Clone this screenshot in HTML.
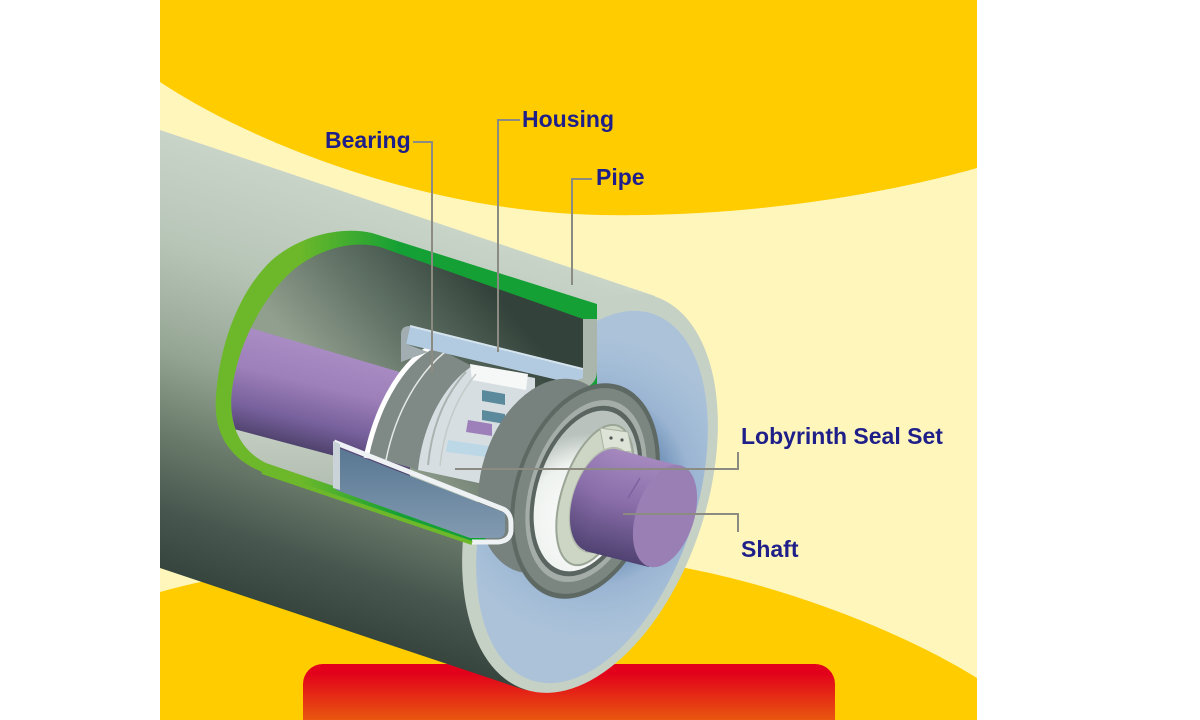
<!DOCTYPE html>
<html><head><meta charset="utf-8"><title>Roller cross-section</title>
<style>
html,body{margin:0;padding:0;background:#fff;width:1200px;height:720px;overflow:hidden}
svg{display:block}
.lbl{font-family:"Liberation Sans",Arial,sans-serif;font-weight:bold;font-size:23px;fill:#1f1f8a}
.ld{fill:none;stroke:#8b8b82;stroke-width:2}
</style></head><body>
<svg width="1200" height="720" viewBox="0 0 1200 720" xmlns="http://www.w3.org/2000/svg">
<defs>
<linearGradient id="gRed" gradientUnits="userSpaceOnUse" x1="0" y1="664" x2="0" y2="720">
<stop offset="0.15" stop-color="#e2001b"/><stop offset="1" stop-color="#e8570f"/></linearGradient>
<linearGradient id="gBody" gradientUnits="userSpaceOnUse" x1="300" y1="177" x2="168" y2="570">
<stop offset="0" stop-color="#c9d4c9"/><stop offset="0.25" stop-color="#b7c5b7"/><stop offset="0.5" stop-color="#95a594"/><stop offset="0.7" stop-color="#687868"/><stop offset="0.86" stop-color="#485850"/><stop offset="1" stop-color="#36453d"/></linearGradient>
<linearGradient id="gGreen" gradientUnits="userSpaceOnUse" x1="300" y1="0" x2="400" y2="0">
<stop offset="0" stop-color="#6cb82a"/><stop offset="1" stop-color="#14a034"/></linearGradient>
<linearGradient id="gIn" gradientUnits="userSpaceOnUse" x1="470" y1="265" x2="330" y2="385">
<stop offset="0" stop-color="#33433b"/><stop offset="0.5" stop-color="#5f7064"/><stop offset="1" stop-color="#919f8e"/></linearGradient>
<linearGradient id="gLow" gradientUnits="userSpaceOnUse" x1="0" y1="420" x2="0" y2="520">
<stop offset="0" stop-color="#c6d0c4"/><stop offset="1" stop-color="#a9b6a8"/></linearGradient>
<linearGradient id="gShaft" gradientUnits="userSpaceOnUse" x1="310" y1="345" x2="285" y2="450">
<stop offset="0" stop-color="#a98cc4"/><stop offset="0.35" stop-color="#9d7fb9"/><stop offset="0.7" stop-color="#76609b"/><stop offset="1" stop-color="#463b62"/></linearGradient>
<linearGradient id="gShaft2" gradientUnits="userSpaceOnUse" x1="640" y1="458" x2="615" y2="560">
<stop offset="0" stop-color="#a387bd"/><stop offset="0.45" stop-color="#8a6eaa"/><stop offset="1" stop-color="#4e4170"/></linearGradient>
<radialGradient id="gFace" gradientUnits="userSpaceOnUse" cx="588" cy="488" r="150">
<stop offset="0.5" stop-color="#7596bb"/><stop offset="0.66" stop-color="#9ab4d2"/><stop offset="0.85" stop-color="#a5bed7"/><stop offset="1" stop-color="#abc2d9"/></radialGradient>
<linearGradient id="gChan" gradientUnits="userSpaceOnUse" x1="0" y1="450" x2="0" y2="540">
<stop offset="0" stop-color="#5a7893"/><stop offset="1" stop-color="#829bb1"/></linearGradient>
<radialGradient id="gSeal" gradientUnits="userSpaceOnUse" cx="600" cy="520" r="90">
<stop offset="0" stop-color="#ffffff"/><stop offset="0.7" stop-color="#eef2ef"/><stop offset="1" stop-color="#b9c2bd"/></radialGradient>
<clipPath id="cWin"><path d="M583,319 L380,247 C352,240 318,249 292,271 C262,298 238,345 232,390 C228,425 240,450 266,463 L472,533 L520,533 L583,386 Z"/></clipPath>
</defs>

<!-- background -->
<rect x="0" y="0" width="1200" height="720" fill="#ffffff"/>
<rect x="160" y="0" width="817" height="720" fill="#fff6bc"/>
<path d="M160,0 H977 V168 C900,190 760,218 600,215 C430,212 255,145 160,82 Z" fill="#ffcc00"/>
<path d="M160,592 C320,548 560,545 680,567 C780,585 900,630 977,678 V720 H160 Z" fill="#ffcc00"/>
<rect x="303" y="664" width="532" height="90" rx="20" fill="url(#gRed)"/>

<!-- pipe body -->
<path d="M160,130 L655,296 L525,690 L160,568 Z" fill="url(#gBody)"/>
<ellipse cx="590" cy="493" rx="116" ry="207" transform="rotate(18.3 590 493)" fill="#c6d1c5"/>
<ellipse cx="592" cy="497" rx="104" ry="193" transform="rotate(18.3 592 497)" fill="url(#gFace)"/>

<!-- cutaway -->
<path d="M597,304 L372,233 C340,226 300,236 272,260 C238,292 220,345 216,395 C213,432 228,458 262,472 L472,543 L520,543 L597,386 Z" fill="url(#gGreen)"/>
<path d="M583,319 L380,247 C352,240 318,249 292,271 C262,298 238,345 232,390 C228,425 240,450 266,463 L472,533 L520,533 L583,386 Z" fill="url(#gIn)"/>
<g clip-path="url(#cWin)">
  <path d="M215,410 L345,448 L500,505 L500,550 L215,480 Z" fill="url(#gLow)"/>
  <path d="M230,322 L410,375 L410,476 L215,424 Z" fill="url(#gShaft)"/>
  <!-- bearing ring -->
  <path d="M433,346 C405,360 378,400 368,455 L418,470 C422,430 440,388 472,366 Z" fill="#7f8985"/>
  <path d="M433,346 C405,360 378,400 366,458" fill="none" stroke="#ffffff" stroke-width="5"/>
  <path d="M445,352 C420,372 396,410 386,460" fill="none" stroke="#e4e9e6" stroke-width="1.5"/>
  <!-- cage -->
  <path d="M472,366 L535,378 L535,495 L418,470 C422,430 440,388 472,366 Z" fill="#d7dee2"/>
  <path d="M470,364 L528,374 L526,390 L472,380 Z" fill="#f6f8f8"/>
  <path d="M482,390 L505,394 L505,405 L482,401 Z" fill="#5b8a9c"/>
  <path d="M482,410 L505,414 L505,424 L482,420 Z" fill="#5b8a9c"/>
  <path d="M468,420 L492,424 L492,436 L466,432 Z" fill="#9d80ba"/>
  <path d="M448,440 L495,447 L495,458 L446,452 Z" fill="#bcd8e6"/>
  <path d="M466,372 C445,395 432,425 428,465" fill="none" stroke="#aab3b0" stroke-width="2"/>
  <path d="M476,374 C456,398 444,428 440,466" fill="none" stroke="#c3cac7" stroke-width="1.5"/>
  <!-- housing top plate -->
  <path d="M410,326 L583,369 L583,386 L406,344 Z" fill="#b3cbe0"/>
  <path d="M410,326 L583,369" fill="none" stroke="#d5e3ee" stroke-width="2"/>
  <path d="M401,334 Q401,326 410,326 L406,344 L428,352 L401,362 Z" fill="#a2adb1"/>
</g>

<!-- pipe wall section at end -->
<path d="M583,319 L597,319 L597,370 Q597,388 578,388 L560,386 L583,378 Z" fill="#aab5ab"/>

<!-- housing disc & flange -->
<ellipse cx="548" cy="476" rx="66" ry="100" transform="rotate(18 548 476)" fill="#77817d"/>
<ellipse cx="585" cy="491" rx="70" ry="111" transform="rotate(18 585 491)" fill="#5e6964"/>
<ellipse cx="585" cy="491" rx="66" ry="106" transform="rotate(18 585 491)" fill="#7b8681"/>
<ellipse cx="586" cy="491" rx="56" ry="94" transform="rotate(18 586 491)" fill="#a4ada8"/>
<ellipse cx="586" cy="491" rx="52" ry="88" transform="rotate(18 586 491)" fill="#5a6460"/>
<ellipse cx="586" cy="491" rx="48" ry="83" transform="rotate(18 586 491)" fill="url(#gSeal)"/>
<ellipse cx="595" cy="495" rx="33" ry="73" transform="rotate(18 595 495)" fill="#cdd6c4" stroke="#9aa596" stroke-width="2"/>
<path d="M600,428 L628,432 L632,452 L604,450 Z" fill="#dde3d6" stroke="#a9b2a4" stroke-width="1"/>
<circle cx="611" cy="438" r="1.6" fill="#555"/>
<circle cx="622" cy="440" r="1.6" fill="#555"/>

<!-- shaft end -->
<ellipse cx="602" cy="500" rx="30" ry="55" transform="rotate(18 602 500)" fill="#b4bcae"/>
<ellipse cx="602" cy="500" rx="29" ry="53" transform="rotate(18 602 500)" fill="url(#gShaft2)"/>
<path d="M619,450 L681,466 L649,567 L585,551 Z" fill="url(#gShaft2)"/>
<ellipse cx="665" cy="516" rx="29" ry="53" transform="rotate(18 665 516)" fill="#9a7fb5"/>
<path d="M640,478 L628,498" fill="none" stroke="#7b62a0" stroke-width="1.5"/>

<!-- housing channel (bottom) -->
<path d="M336,447 L505,513 L505,530 Q505,538 497,538 L470,538 L336,490 Z" fill="url(#gChan)"/>
<path d="M334,442 L503,509 Q511,513 511,523 L511,531 Q510,541 498,542 L472,542" fill="none" stroke="#eef2f4" stroke-width="5"/>
<path d="M333,441 L340,444 L340,490 L333,488 Z" fill="#c9d3d8"/>
<path d="M262,472 L472,543" fill="none" stroke="#6cb82a" stroke-width="4"/>

<!-- leader lines -->
<path class="ld" d="M413,142 H432 V373"/>
<path class="ld" d="M520,120 H498 V352"/>
<path class="ld" d="M592,179 H572 V285"/>
<path class="ld" d="M455,469 H738 V452"/>
<path class="ld" d="M623,514 H738 V532"/>

<!-- labels -->
<text class="lbl" x="325" y="148">Bearing</text>
<text class="lbl" x="522" y="127">Housing</text>
<text class="lbl" x="596" y="185">Pipe</text>
<text class="lbl" x="741" y="444">Lobyrinth Seal Set</text>
<text class="lbl" x="741" y="557">Shaft</text>
</svg>
</body></html>
